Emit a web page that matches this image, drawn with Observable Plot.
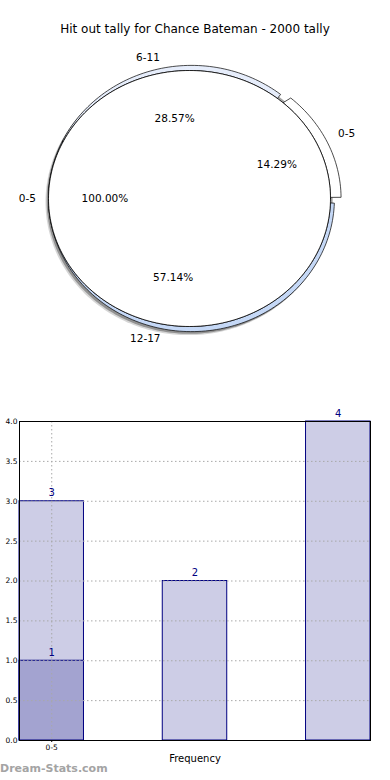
<!DOCTYPE html>
<html><head><meta charset="utf-8">
<script src="https://cdn.jsdelivr.net/npm/d3@7"></script>
<script src="https://cdn.jsdelivr.net/npm/@observablehq/plot@0.6"></script>
<style>
body{margin:0;background:#fff;font-family:"DejaVu Sans",sans-serif;}
#wrap{position:relative;width:390px;height:780px;overflow:hidden;background:#fff;}
#title{position:absolute;left:0;top:22px;width:390px;text-align:center;font-size:12px;line-height:15px;color:#000;}
#pie{position:absolute;left:0;top:50px;}
#bars{position:absolute;left:0;top:400px;}
#wm{position:absolute;left:0;top:762px;font-size:11px;font-weight:bold;color:#a4a4a4;}
</style></head>
<body><div id="wrap">
<div id="pie"></div>
<div id="bars"></div>
<div id="title"></div>
<div id="wm"></div>
</div>
<script>
// ---------- data ----------
const titleText = "Hit out tally for Chance Bateman - 2000 tally";
const watermark = "Dream-Stats.com";
const innerCategories = ["0-5"];
const innerValues = [1];
const outerCategories = ["0-5", "6-11", "12-17"];
const outerValues = [1, 2, 4];
const outerColors = ["#ffffff", "#e6edfb", "#c5d8f6"];
const explode = [0.047, 0, 0];
const barCategories = ["0-5", "6-11", "12-17"];
const barValues = [3, 2, 4];
const overlayValues = [1];
const xTickLabels = ["0-5"];
const yTicks = [0, 0.5, 1, 1.5, 2, 2.5, 3, 3.5, 4];
const xLabel = "Frequency";

document.getElementById("title").textContent = titleText;
document.getElementById("wm").textContent = watermark;

// ---------- pie geometry ----------
const deg = Math.PI / 180;
function slicesOf(cats, vals) {
  const total = d3.sum(vals);
  let acc = 0;
  return cats.map((c, i) => {
    const a0 = acc / total * 360; acc += vals[i]; const a1 = acc / total * 360;
    return {c, i, v: vals[i], pct: vals[i] / total * 100, a0, a1};
  });
}
const inner = slicesOf(innerCategories, innerValues);
const outer = slicesOf(outerCategories, outerValues);
outer.forEach((s, i) => {
  if (explode[i] > 0) {
    s.a0 += 0.5; s.a1 -= 3;
    const prev = outer[(i - 1 + outer.length) % outer.length];
    prev.a1 -= 2;
  }
});
const ringCx = 0.014, ringRx = 1.014, ringRy = 1.04;
function ringPts(s) {
  const e = explode[s.i];
  const rx = ringRx + e, ry = ringRy + e * 0.2;
  const n = Math.max(10, Math.ceil((s.a1 - s.a0) / 1.5));
  const pts = [];
  for (let k = 0; k <= n; k++) { const a = (s.a0 + (s.a1 - s.a0) * k / n) * deg; pts.push({x: Math.cos(a), y: Math.sin(a)}); }
  for (let k = n; k >= 0; k--) { const a = (s.a0 + (s.a1 - s.a0) * k / n) * deg; pts.push({x: ringCx + rx * Math.cos(a), y: ry * Math.sin(a)}); }
  pts.push(pts[0]);
  return pts;
}
function ellipsePts(cx, rx, ry) {
  const pts = [];
  for (let k = 0; k <= 240; k++) { const a = k / 240 * 2 * Math.PI; pts.push({x: cx + rx * Math.cos(a), y: ry * Math.sin(a)}); }
  return pts;
}
const innerPts = ellipsePts(0, 1, 1);
const shadowPts = ellipsePts(ringCx, ringRx, ringRy);

const labels = [];
inner.forEach(s => {
  const m = (s.a0 + s.a1) / 2 * deg;
  labels.push({x: 1.15 * Math.cos(m), y: 1.15 * Math.sin(m), t: s.c});
  labels.push({x: 0.6 * Math.cos(m), y: 0.6 * Math.sin(m), t: s.pct.toFixed(2) + "%"});
});
outer.forEach(s => {
  const m = (s.a0 + s.a1) / 2 * deg, e = explode[s.i];
  const r = 1.13 + 2 * e;
  labels.push({x: r * Math.cos(m) - (e > 0 ? 0 : 0.043), y: r * Math.sin(m), t: s.c});
  labels.push({x: 0.64 * Math.cos(m) + 0.037, y: 0.64 * Math.sin(m), t: s.pct.toFixed(2) + "%"});
});

const pie = Plot.plot({
  width: 390, height: 320, margin: 0,
  style: {fontFamily: "DejaVu Sans", background: "white"},
  x: {domain: [-1, 1], range: [48, 330], axis: null},
  y: {domain: [-1, 1], range: [276, 20], axis: null},
  marks: [
    Plot.line(shadowPts, {x: "x", y: "y", fill: "#888", fillOpacity: 0.35, stroke: "none", dx: -3, dy: 3.5}),
    Plot.line(shadowPts, {x: "x", y: "y", fill: "#666", fillOpacity: 0.6, stroke: "none", dx: -1.8, dy: 2.2}),
    ...outer.map(s => Plot.line(ringPts(s), {x: "x", y: "y", fill: outerColors[s.i], stroke: "black", strokeWidth: 0.7})),
    Plot.line(innerPts, {x: "x", y: "y", fill: "white", stroke: "black", strokeWidth: 0.8}),
    Plot.text(labels, {x: "x", y: "y", text: "t", fontSize: 10.5, fill: "black"})
  ]
});
document.getElementById("pie").appendChild(pie);

// ---------- bars ----------
const halfW = 0.225;
const barData = barCategories.map((c, i) => ({i, c, value: barValues[i]}));
const overlayData = overlayValues.map((v, i) => ({i, value: v}));
const bars = Plot.plot({
  width: 390, height: 375, marginTop: 21, marginBottom: 35, marginLeft: 19, marginRight: 20,
  style: {fontFamily: "DejaVu Sans", background: "white", color: "black"},
  x: {domain: [-halfW, barCategories.length - 1 + halfW], axis: null},
  y: {domain: [0, 4], axis: null},
  marks: [
    Plot.rect(barData, {x1: d => d.i - halfW, x2: d => d.i + halfW, y1: () => 0, y2: "value", fill: "#cdcde6", stroke: "#000080", strokeWidth: 1}),
    Plot.rect(overlayData, {x1: d => d.i - halfW, x2: d => d.i + halfW, y1: () => 0, y2: "value", fill: "#a3a3d0", stroke: "#000080", strokeWidth: 1}),
    Plot.gridY(yTicks, {stroke: "#a8a8a8", strokeOpacity: 1, strokeDasharray: "1.5,2.5"}),
    Plot.gridX(xTickLabels.map((_, i) => i), {stroke: "#a8a8a8", strokeOpacity: 1, strokeDasharray: "1.5,2.5"}),
    Plot.frame({stroke: "black", strokeWidth: 1}),
    Plot.axisY(yTicks, {tickFormat: d3.format(".1f"), tickSize: 0, tickPadding: 2, fontSize: 7.5, label: null}),
    Plot.axisX(xTickLabels.map((_, i) => i), {tickFormat: i => xTickLabels[i], tickSize: 2, tickPadding: 2, fontSize: 7.5, label: null}),
    Plot.text([xLabel], {frameAnchor: "bottom", lineAnchor: "top", dy: 14, text: d => d, fontSize: 10, fill: "black"}),
    Plot.text(barData, {x: "i", y: "value", text: d => String(d.value), dy: -8, fill: "#000080", fontSize: 10}),
    Plot.text(overlayData, {x: "i", y: "value", text: d => String(d.value), dy: -8, fill: "#000080", fontSize: 10})
  ]
});
document.getElementById("bars").appendChild(bars);
</script>
</body></html>
